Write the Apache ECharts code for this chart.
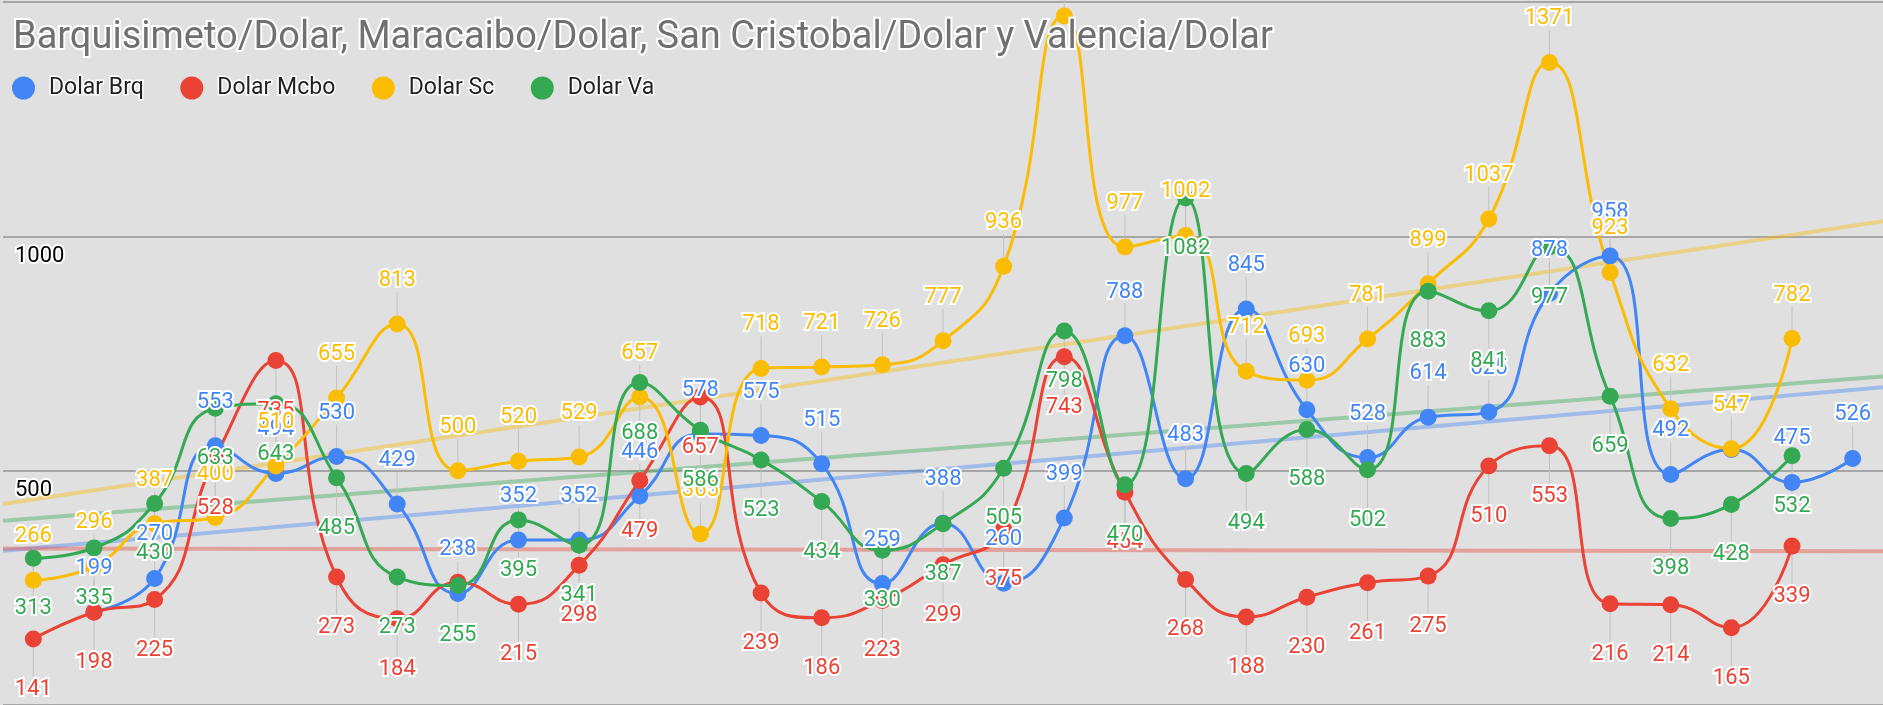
<!DOCTYPE html>
<html>
<head>
<meta charset="utf-8">
<script src="https://cdn.jsdelivr.net/npm/echarts@6/dist/echarts.min.js"></script>
<style>
  html, body { margin: 0; padding: 0; background: #e0e0e0; }
  #grafico { width: 1883px; height: 705px; }
</style>
</head>
<body>
<div id="grafico"></div>
<script>
// valores (una posicion por dia, 31 dias)
const dolarBrq  = [null, 199, 270, 553, 494, 530, 429, 238, 352, 352, 446, 578, 575, 515, 259, 388, 260, 399, 788, 483, 845, 630, 528, 614, 625, 878, 958, 492, 545, 475, 526];
const dolarMcbo = [141, 198, 225, 528, 735, 273, 184, 262, 215, 298, 479, 657, 239, 186, 223, 299, 375, 743, 454, 268, 188, 230, 261, 275, 510, 553, 216, 214, 165, 339, null];
const dolarSc   = [266, 296, 387, 400, 510, 655, 813, 500, 520, 529, 657, 365, 718, 721, 726, 777, 936, 1470, 977, 1002, 712, 693, 781, 899, 1037, 1371, 923, 632, 547, 782, null];
const dolarVa   = [313, 335, 430, 633, 643, 485, 273, 255, 395, 341, 688, 586, 523, 434, 330, 387, 505, 798, 470, 1082, 494, 588, 502, 883, 841, 977, 659, 398, 428, 532, null];

// lineas de tendencia: valor en el borde izquierdo y derecho
const tendBrq  = [329, 678];
const tendMcbo = [334, 328];
const tendSc   = [429, 1032];
const tendVa   = [393, 701];

// etiquetas que no se ven en el original
const sinEtiqueta = { "Dolar Brq": [28], "Dolar Mcbo": [7] };

const fuente = "Roboto";

function puntos(nombre, valores) {
  const ocultos = sinEtiqueta[nombre] || [];
  const datos = [];
  valores.forEach((v, i) => {
    if (v == null) return;
    const punto = { value: [i, v] };
    if (ocultos.includes(i)) punto.label = { show: false };
    datos.push(punto);
  });
  return datos;
}

function serie(nombre, valores, color, posicion) {
  return {
    name: nombre,
    type: "line",
    smooth: 0.5,
    symbol: "circle",
    symbolSize: 17,
    z: 3,
    data: puntos(nombre, valores),
    itemStyle: { color: color },
    lineStyle: { color: color, width: 3 },
    label: {
      show: true,
      position: posicion,
      distance: posicion === "top" ? 24 : 31,
      color: color,
      fontSize: 22,
      fontFamily: fuente,
      textBorderColor: "#fff",
      textBorderWidth: 4,
    },
  };
}

// linea gris fina entre el punto y su etiqueta
function guias(nombre, valores, posicion) {
  const ocultos = sinEtiqueta[nombre] || [];
  const datos = [];
  valores.forEach((v, i) => {
    if (v != null && !ocultos.includes(i)) datos.push([i, v]);
  });
  return {
    type: "custom",
    silent: true,
    z: 2,
    data: datos,
    renderItem: function (params, api) {
      const p = api.coord([api.value(0), api.value(1)]);
      const largo = posicion === "top" ? -32 : 40;
      return {
        type: "line",
        shape: { x1: p[0], y1: p[1], x2: p[0], y2: p[1] + largo },
        style: { stroke: "#c2c2c2", lineWidth: 1 },
      };
    },
  };
}

function tendencia(nombre, extremos, color) {
  return {
    name: nombre + " tendencia",
    type: "line",
    silent: true,
    symbol: "none",
    z: 1,
    data: [[-0.5, extremos[0]], [30.5, extremos[1]]],
    lineStyle: { color: color, width: 4, opacity: 0.4 },
  };
}

const azul = "#4285f4", rojo = "#ea4335", amarillo = "#fbbc04", verde = "#34a853";

const chart = echarts.init(document.getElementById("grafico"));
chart.setOption({
  backgroundColor: "#e0e0e0",
  animation: false,
  title: {
    text: "Barquisimeto/Dolar, Maracaibo/Dolar, San Cristobal/Dolar y Valencia/Dolar",
    left: 8,
    top: 14,
    textStyle: {
      color: "#707070",
      fontSize: 38,
      fontWeight: "normal",
      fontFamily: fuente,
      textBorderColor: "#fff",
      textBorderWidth: 4,
    },
  },
  legend: {
    data: ["Dolar Brq", "Dolar Mcbo", "Dolar Sc", "Dolar Va"],
    left: 7,
    top: 70,
    icon: "circle",
    itemWidth: 23,
    itemHeight: 23,
    itemGap: 35,
    textStyle: {
      color: "#222",
      fontSize: 23,
      fontFamily: fuente,
      padding: [0, 0, 0, 9],
      textBorderColor: "#fff",
      textBorderWidth: 3,
    },
  },
  grid: {
    left: 3,
    top: 2,
    width: 1882,
    height: 709,
  },
  xAxis: {
    type: "value",
    min: -0.5,
    max: 30.5,
    show: false,
  },
  yAxis: {
    type: "value",
    min: 0,
    max: 1500,
    interval: 500,
    axisLine: { show: false },
    axisTick: { show: false },
    splitLine: { lineStyle: { color: "#a6a6a6", width: 2 } },
    axisLabel: {
      inside: true,
      margin: 12,
      showMinLabel: false,
      showMaxLabel: false,
      verticalAlign: "top",
      padding: [9, 0, 0, 0],
      formatter: (v) => String(v),
      color: "#000",
      fontSize: 22,
      fontFamily: fuente,
      textBorderColor: "#fff",
      textBorderWidth: 4,
    },
  },
  series: [
    tendencia("Dolar Brq", tendBrq, azul),
    tendencia("Dolar Mcbo", tendMcbo, rojo),
    tendencia("Dolar Sc", tendSc, amarillo),
    tendencia("Dolar Va", tendVa, verde),
    guias("Dolar Brq", dolarBrq, "top"),
    guias("Dolar Mcbo", dolarMcbo, "bottom"),
    guias("Dolar Sc", dolarSc, "top"),
    guias("Dolar Va", dolarVa, "bottom"),
    serie("Dolar Brq", dolarBrq, azul, "top"),
    serie("Dolar Mcbo", dolarMcbo, rojo, "bottom"),
    serie("Dolar Sc", dolarSc, amarillo, "top"),
    serie("Dolar Va", dolarVa, verde, "bottom"),
  ],
});
</script>
</body>
</html>
